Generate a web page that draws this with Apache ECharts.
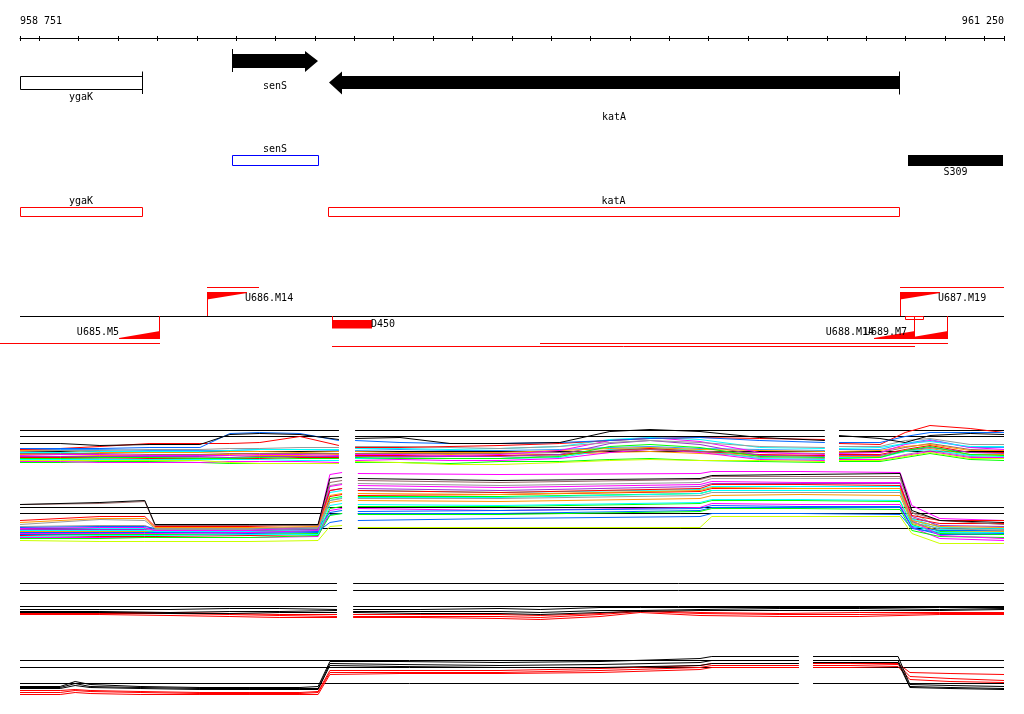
<!DOCTYPE html>
<html>
<head>
<meta charset="utf-8">
<script src="https://cdn.jsdelivr.net/npm/echarts@6/dist/echarts.min.js"></script>
<style>
  html, body { margin: 0; padding: 0; background: #fff; }
  #main { width: 1024px; height: 714px; }
</style>
</head>
<body>
<div id="main"></div>
<script>
// region shown
var regionStart = 958751;
var regionEnd = 961250;
var rulerTicks = [958751, 958800, 958900, 959000, 959100, 959200, 959300, 959400, 959500, 959600,
  959700, 959800, 959900, 960000, 960100, 960200, 960300, 960400, 960500, 960600, 960700,
  960800, 960900, 961000, 961100, 961200, 961250];
var rulerLabels = [958751, 961250];

// genes (strand 0 = partial box)
var geneNames = ['ygaK', 'senS', 'katA'];
var geneStart = [958751, 959289, 959536];
var geneEnd = [959061, 959509, 960983];
var geneStrand = [0, 1, -1];
var geneLabelRow = [0, 0, 1];

// second line: senS frame, S309 block
var mapNames = ['senS', 'S309'];
var mapStart = [959289, 961006];
var mapEnd = [959509, 961247];
var mapKind = ['frame', 'block'];

// third line: orfs
var orfNames = ['ygaK', 'katA'];
var orfStart = [958751, 959533];
var orfEnd = [959061, 960983];

// transcription starts
var tssNames = ['U685.M5', 'U686.M14', 'U687.M19', 'U688.M14', 'U689.M7'];
var tssPos = [959104, 959226, 960986, 961021, 961105];
var tssStrand = [-1, 1, 1, -1, -1];
var tssSpanFrom = [958700, 959226, 960986, 959543, 960072];
var tssSpanTo = [959104, 959358, 961250, 961021, 961105];
var tssSpanLevel = [0, 0, 0, 1, 0];

// terminators
var termNames = ['D450', ''];
var termStart = [959543, 960999];
var termEnd = [959645, 961044];
var termFilled = [1, 0];

// expression panels: positions (null value = gap) and profiles
var posA = [958751, 958853, 958954, 959081, 959208, 959284, 959360, 959462, 959561, 959581,
  959602, 959716, 959843, 959970, 960122, 960249, 960351, 960478, 960630, 960795, 960813,
  960831, 960935, 960999, 961062, 961164, 961250];
var segA = [958751, 959561, 959602, 960795, 960831, 961250];
var refA = [40, 34, 19];
var panelA = [
  [27,27,25,26,26,36,37,36,31,null,32,33,27,27,28,39,41,39,33,30,null,35,32,28,35,37,36],
  [22,22,22,23,23,37,38,37,30,null,30,28,27,27,28,30,32,33,30,28,null,28,28,34,38,38,38],
  [21,22,24,27,27,27,28,34,25,null,23,23,24,25,27,30,32,33,32,31,null,27,26,38,45,42,38],
  [19,20,20,21,21,22,22,23,23,null,24,24,23,22,24,28,30,28,24,23,null,24,24,30,32,26,26],
  [18,18,19,19,19,20,21,21,21,null,22,22,21,22,24,31,33,31,23,22,null,22,23,27,29,24,24],
  [15,16,16,15,15,15,16,16,15,null,16,16,15,16,20,30,33,29,18,16,null,17,18,26,30,23,21],
  [12,12,13,13,12,12,13,12,12,null,13,12,12,12,14,24,26,23,14,13,null,12,13,20,24,16,15],
  [10,10,10,10,10,8,7,7,7,null,9,8,6,6,8,10,11,10,10,9,null,10,10,14,18,12,12],
  [20,20,18,18,18,19,19,18,19,null,19,18,18,18,20,22,23,21,20,19,null,19,20,24,26,20,20],
  [17,17,17,16,16,17,17,17,17,null,17,17,17,17,18,20,21,19,18,17,null,18,18,23,27,21,20],
  [14,14,14,14,14,13,14,14,14,null,14,14,14,14,16,27,30,26,15,14,null,15,15,20,23,18,17],
  [21,21,21,20,20,20,21,21,20,null,20,21,20,20,21,23,24,22,21,20,null,21,21,27,31,23,23],
  [9,9,8,8,8,9,9,9,8,null,10,11,10,10,12,18,21,18,11,10,null,11,11,15,19,13,13],
  [8,8,9,9,8,7,7,7,7,null,8,8,7,9,9,11,12,10,9,8,null,9,9,13,17,11,10],
  [13,13,13,12,12,12,12,13,13,null,15,15,14,15,16,20,22,19,16,15,null,16,16,21,25,18,18],
  [11,11,11,11,11,11,11,10,10,null,12,12,12,12,13,21,23,20,12,11,null,13,13,19,21,15,14],
  [16,16,15,15,16,16,15,15,16,null,15,15,16,15,16,18,19,17,15,15,null,14,14,19,22,16,16],
  [12,12,12,13,13,13,14,14,13,null,12,13,12,12,15,20,22,19,13,12,null,10,10,16,20,14,13]
];

var posB = [958751, 958954, 959068, 959094, 959335, 959508, 959538, 959569, 959589,
  959609, 959970, 960478, 960508, 960732, 960986, 961016, 961087, 961250];
var segB = [958751, 959569, 959609, 961250];
var refB = [43, 37, 22];
var panelB = [
  [46,48,50,26,26,26,72,73,null,72,70,72,75,76,77,40,30,28],
  [46,47,49,25,25,25,68,70,null,70,68,71,74,74,74,38,30,26],
  [30,34,34,24,24,26,60,62,null,60,58,62,66,66,65,35,30,30],
  [28,32,32,23,23,24,55,57,null,57,56,60,63,62,62,30,24,23],
  [26,31,30,22,22,23,50,52,null,52,52,55,58,58,58,28,22,20],
  [22,23,23,20,20,24,76,78,null,77,76,77,79,79,78,45,32,30],
  [17,17,17,17,18,20,64,66,null,65,63,66,69,68,68,30,15,12],
  [20,20,20,19,19,20,50,53,null,53,53,57,60,60,60,32,23,22],
  [14,15,15,15,16,16,45,47,null,46,45,48,51,51,50,25,18,18],
  [23,24,24,22,22,23,38,40,null,39,40,42,45,44,44,24,20,20],
  [18,18,18,18,18,19,28,30,null,30,32,34,37,37,36,22,18,17],
  [17,16,16,16,16,17,42,44,null,44,44,47,50,50,49,26,17,16],
  [12,12,13,13,13,15,35,37,null,36,36,39,42,42,41,20,14,13],
  [10,9,9,9,9,10,24,25,null,23,23,23,34,34,34,17,7,7],
  [21,21,21,20,20,21,60,62,null,62,60,64,67,67,67,34,25,24],
  [19,19,19,18,19,19,48,50,null,50,49,52,55,56,55,27,20,19],
  [15,14,14,14,15,16,54,56,null,55,56,59,62,62,62,32,27,27],
  [24,25,25,21,21,22,65,67,null,67,65,68,72,72,72,38,23,21],
  [13,13,13,13,13,14,40,42,null,42,40,43,47,46,46,23,12,10],
  [21,22,22,21,21,22,58,60,null,60,58,61,64,64,64,31,21,20],
  [16,16,16,16,17,18,36,37,null,37,37,40,43,43,43,23,16,16],
  [19,19,19,19,20,21,52,54,null,54,54,57,60,60,60,29,19,18]
];

var posC = [958751, 958954, 959132, 959284, 959411, 959556, 959576,
  959597, 959767, 959970, 960072, 960224, 960326, 960478, 960681, 960884, 961087, 961250];
var segC = [958751, 959556, 959597, 961250];
var refC = [42, 35, 19];
var panelC = [
  [16,16,16,17,17,16,null,16,16,17,16,18,18,18,18,18,18,18],
  [14,14,13,14,14,15,null,14,14,14,13,15,15,16,17,17,16,17],
  [13,13,12,12,13,13,null,13,12,12,11,13,14,15,15,15,15,16],
  [13,13,13,12,11,11,null,11,11,11,10,12,15,13,12,13,13,13],
  [12,12,12,11,10,9,null,9,9,9,8,11,14,12,11,11,12,12],
  [11,11,10,9,8,8,null,8,8,7,6,9,13,10,9,9,11,11]
];

var posD = [958751, 958853, 958891, 958929, 959056, 959208, 959335, 959462, 959508, 959538,
  959716, 959970, 960224, 960478, 960508, 960729, 960747,
  960765, 960859, 960981, 961011, 961113, 961250];
var segD = [958751, 960729, 960765, 961250];
var refD = [40, 33, 17];
var panelD = [
  [14,14,19,16,14,13,13,13,14,39,39,38,39,42,44,44,null,44,44,44,16,15,14],
  [13,13,17,14,13,12,12,12,12,37,36,35,36,38,40,40,null,40,40,40,14,13,12],
  [12,12,15,13,12,11,11,11,11,35,34,33,33,35,37,37,null,38,38,38,13,12,11],
  [10,10,11,10,9,8,8,8,9,30,30,30,32,35,37,37,null,37,37,37,28,27,26],
  [8,8,10,9,8,7,7,7,8,28,28,28,30,33,35,35,null,35,35,36,24,22,20],
  [6,6,8,7,6,6,6,6,6,26,27,27,28,31,33,33,null,33,33,34,21,19,18]
];

// ---- styles ----
var colorsA = ['#000000','#0066ff','#ff0000','#999999','#00ffff','#ff00ff','#00ff00','#ccff00','#ff9900',
  '#996666','#9933cc','#3399ff','#ff00ff','#00ff00','#ff0000','#00ffff','#ff9900','#999999'];
var colorsB = ['#000000','#996666','#ff0000','#ff9900','#999999','#ff00ff','#ff00ff','#00ffff','#00ffff',
  '#0066ff','#0066ff','#00ff00','#00ff00','#ccff00','#9933cc','#ff9900','#ff0000','#999999',
  '#ff00ff','#00ffff','#0066ff','#00ff00'];
var colorsCD = ['#000000','#000000','#000000','#ff0000','#ff0000','#ff0000'];
var RED = '#ff0000';
var FONT = '10px "DejaVu Sans Mono", monospace';

function pxl(v) { return Math.round(v) + 0.5; }
function text(x, y, s, align) {
  return { type: 'text', style: { x: x, y: y, text: s, fill: '#000', font: FONT,
    align: align || 'center', verticalAlign: 'middle' } };
}
function hline(x0, x1, y, color) {
  return { type: 'line', shape: { x1: x0, y1: pxl(y), x2: x1, y2: pxl(y) },
    style: { stroke: color, lineWidth: 1 } };
}
function vline(x, y0, y1, color) {
  return { type: 'line', shape: { x1: pxl(x), y1: y0, x2: pxl(x), y2: y1 },
    style: { stroke: color, lineWidth: 1 } };
}
function poly(points, color) {
  return { type: 'polygon', shape: { points: points }, style: { fill: color } };
}
function rect(x0, y0, x1, y1, fill, stroke) {
  return { type: 'rect', shape: { x: x0, y: y0, width: x1 - x0, height: y1 - y0 },
    style: { fill: fill, stroke: stroke || null, lineWidth: 1 } };
}
function xc(api, v) { return api.coord([v, 0])[0]; }

function renderGene(params, api) {
  var i = params.dataIndex;
  var s = Math.round(xc(api, api.value(0))), e = Math.round(xc(api, api.value(1)));
  var strand = api.value(2);
  var out = [];
  if (strand === 1) {
    var cy = 61;
    out.push(poly([[s, cy - 7], [e - 13, cy - 7], [e - 13, cy - 10], [e, cy], [e - 13, cy + 11],
      [e - 13, cy + 7], [s, cy + 7]], '#000'));
    out.push(vline(s, cy - 12, cy + 11, '#000'));
    out.push(text((s + e) / 2, 86, geneNames[i]));
  } else if (strand === -1) {
    var cr = 82.5;
    out.push(poly([[e, cr - 6.5], [s + 13, cr - 6.5], [s + 13, cr - 11], [s, cr], [s + 13, cr + 12],
      [s + 13, cr + 6.5], [e, cr + 6.5]], '#000'));
    out.push(vline(e, cr - 11, cr + 12, '#000'));
    out.push(text((s + e) / 2, 97 + 20 * api.value(3), geneNames[i]));
  } else {
    out.push(rect(s + 0.5, 76.5, e + 0.5, 89.5, '#fff', '#000'));
    out.push(vline(e, 71.5, 94, '#000'));
    out.push(text((s + e) / 2, 97 + 20 * api.value(3), geneNames[i]));
  }
  return { type: 'group', children: out };
}

function renderMap(params, api) {
  var i = params.dataIndex;
  var s = Math.round(xc(api, mapStart[i])), e = Math.round(xc(api, mapEnd[i]));
  if (mapKind[i] === 'frame') {
    return { type: 'group', children: [
      rect(s + 0.5, 155.5, e + 0.5, 165.5, '#fff', '#0000ff'),
      text((s + e) / 2, 149, mapNames[i])
    ] };
  }
  return { type: 'group', children: [
    rect(s, 155, e, 166, '#000'),
    text((s + e) / 2, 172, mapNames[i])
  ] };
}

function renderOrf(params, api) {
  var i = params.dataIndex;
  var s = Math.round(xc(api, orfStart[i])), e = Math.round(xc(api, orfEnd[i]));
  return { type: 'group', children: [
    rect(s + 0.5, 207.5, e + 0.5, 216.5, '#fff', RED),
    text((s + e) / 2, 201, orfNames[i])
  ] };
}

function renderTss(params, api) {
  var i = params.dataIndex;
  var x = Math.round(xc(api, tssPos[i]));
  var a = Math.round(xc(api, tssSpanFrom[i])), b = Math.round(xc(api, tssSpanTo[i]));
  var out = [];
  if (tssStrand[i] === 1) {
    out.push(vline(x, 292, 316, RED));
    out.push(poly([[x, 292], [x + 40, 292], [x + 40, 293], [x, 299.5]], RED));
    out.push(hline(a, b, 287, RED));
    out.push(text(x + 38, 298, tssNames[i], 'left'));
  } else {
    out.push(vline(x, 316, 339, RED));
    out.push(poly([[x + 1, 339], [x - 40, 339], [x - 40, 338], [x + 1, 331]], RED));
    out.push(hline(a, b + 1, 343 + 3 * tssSpanLevel[i], RED));
    out.push(text(x - 40, 332, tssNames[i], 'right'));
  }
  return { type: 'group', children: out };
}

function renderTerm(params, api) {
  var i = params.dataIndex;
  var s = Math.round(xc(api, termStart[i])), e = Math.round(xc(api, termEnd[i]));
  var out = [];
  if (termFilled[i]) {
    out.push(vline(s, 316, 328, RED));
    out.push(rect(s, 320, e, 328.5, RED));
    out.push(text(e - 1, 324, termNames[i], 'left'));
  } else {
    out.push(rect(s + 0.5, 316.5, e + 0.5, 319.5, null, RED));
  }
  return { type: 'group', children: out };
}

function renderBase(params, api) {
  var s = xc(api, api.value(0)), e = xc(api, api.value(1));
  return hline(s, e, 316, '#000');
}

function refSeries(seg, levels, axis, z) {
  var data = [];
  levels.forEach(function (lv) {
    for (var k = 0; k < seg.length; k += 2) {
      data.push([seg[k], lv], [seg[k + 1], lv], [seg[k + 1] + 1, '-']);
    }
  });
  return { type: 'line', xAxisIndex: axis, yAxisIndex: axis, data: data, symbol: 'none',
    silent: true, connectNulls: false, z: z, lineStyle: { color: '#000', width: 1 } };
}
function profileSeries(pos, vals, color, axis, z) {
  return { type: 'line', xAxisIndex: axis, yAxisIndex: axis, symbol: 'none', silent: true,
    connectNulls: false, z: z,
    data: pos.map(function (x, k) { return [x, vals[k] == null ? '-' : vals[k]]; }),
    lineStyle: { color: color, width: 1 } };
}

var series = [
  { type: 'custom', xAxisIndex: 1, yAxisIndex: 1, clip: false, silent: true,
    data: [[regionStart, regionEnd]], encode: { x: [0, 1] }, renderItem: renderBase },
  { type: 'custom', xAxisIndex: 1, yAxisIndex: 1, clip: false, silent: true,
    data: geneNames.map(function (n, i) { return [geneStart[i], geneEnd[i], geneStrand[i], geneLabelRow[i]]; }),
    encode: { x: [0, 1] }, renderItem: renderGene },
  { type: 'custom', xAxisIndex: 1, yAxisIndex: 1, clip: false, silent: true,
    data: mapNames.map(function (n, i) { return [mapStart[i], mapEnd[i]]; }),
    encode: { x: [0, 1] }, renderItem: renderMap },
  { type: 'custom', xAxisIndex: 1, yAxisIndex: 1, clip: false, silent: true,
    data: orfNames.map(function (n, i) { return [orfStart[i], orfEnd[i]]; }),
    encode: { x: [0, 1] }, renderItem: renderOrf },
  { type: 'custom', xAxisIndex: 1, yAxisIndex: 1, clip: false, silent: true, z: 3,
    data: tssNames.map(function (n, i) { return [tssSpanFrom[i], tssSpanTo[i]]; }),
    encode: { x: [0, 1] }, renderItem: renderTss },
  { type: 'custom', xAxisIndex: 1, yAxisIndex: 1, clip: false, silent: true, z: 3,
    data: termNames.map(function (n, i) { return [termStart[i], termEnd[i]]; }),
    encode: { x: [0, 1] }, renderItem: renderTerm }
];

series.push(refSeries(segA, refA, 2, 2));
for (var a = panelA.length - 1; a >= 0; a--) series.push(profileSeries(posA, panelA[a], colorsA[a], 2, 2));
series.push(refSeries(segB, refB, 3, 1));
for (var b = panelB.length - 1; b >= 0; b--) series.push(profileSeries(posB, panelB[b], colorsB[b], 3, 2));
series.push(refSeries(segC, refC, 4, 2));
for (var c = panelC.length - 1; c >= 0; c--) series.push(profileSeries(posC, panelC[c], colorsCD[c], 4, 2));
series.push(refSeries(segD, refD, 5, 2));
for (var d = panelD.length - 1; d >= 0; d--) series.push(profileSeries(posD, panelD[d], colorsCD[d], 5, 2));

function hiddenX(g) {
  return { gridIndex: g, type: 'value', min: regionStart, max: regionEnd, show: false };
}
function hiddenY(g, min, max, inverse) {
  return { gridIndex: g, type: 'value', min: min, max: max, inverse: !!inverse, show: false };
}

var chart = echarts.init(document.getElementById('main'));
chart.setOption({
  animation: false,
  backgroundColor: '#fff',
  grid: [
    { left: 20, right: 20, top: 38, height: 3 },
    { left: 20, right: 20, top: 0, height: 360 },
    { left: 20, right: 20, top: 420.5, height: 50 },
    { left: 20, right: 20, top: 465.5, height: 85 },
    { left: 20, right: 20, top: 575.5, height: 50 },
    { left: 20, right: 20, top: 650.5, height: 50 }
  ],
  xAxis: [
    { gridIndex: 0, type: 'value', position: 'top', min: regionStart, max: regionEnd,
      axisLine: { show: true, onZero: false, lineStyle: { color: '#000', width: 1 } },
      axisTick: { show: true, customValues: rulerTicks, length: 2, inside: false,
        lineStyle: { color: '#000', width: 1 } },
      axisLabel: { show: true, customValues: rulerLabels, margin: 12, color: '#000',
        fontFamily: '"DejaVu Sans Mono", monospace', fontSize: 10,
        alignMinLabel: 'left', alignMaxLabel: 'right',
        formatter: function (v) { var s = String(Math.round(v)); return s.slice(0, 3) + ' ' + s.slice(3); } },
      splitLine: { show: false } },
    hiddenX(1), hiddenX(2), hiddenX(3), hiddenX(4), hiddenX(5),
    { gridIndex: 0, type: 'value', position: 'bottom', min: regionStart, max: regionEnd,
      axisLine: { show: false, onZero: false },
      axisTick: { show: true, customValues: rulerTicks, length: 3, inside: true,
        lineStyle: { color: '#000', width: 1 } },
      axisLabel: { show: false }, splitLine: { show: false } }
  ],
  yAxis: [
    hiddenY(0, 0, 1),
    hiddenY(1, 0, 360, true),
    hiddenY(2, 0, 50),
    hiddenY(3, 0, 85),
    hiddenY(4, 0, 50),
    hiddenY(5, 0, 50)
  ],
  series: series
});
</script>
</body>
</html>
